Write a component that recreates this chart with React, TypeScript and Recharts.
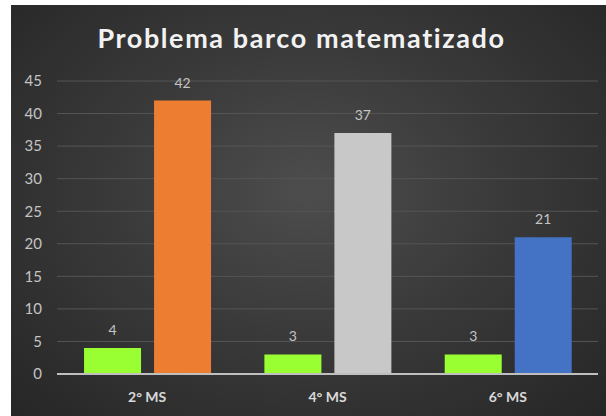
import React from "react";
import { BarChart, Bar, XAxis, YAxis, CartesianGrid, LabelList, Cell } from "recharts";

const categories = ["2° MS", "4° MS", "6° MS"];
const seriesA = [4, 3, 3];
const seriesB = [42, 37, 21];
const colorsB = ["#ED7D31", "#C8C8C8", "#4472C4"];
const yTicks = [0, 5, 10, 15, 20, 25, 30, 35, 40, 45];
const title = "Problema barco matematizado";

const data = categories.map((c, i) => ({ name: c, a: seriesA[i], b: seriesB[i] }));

const W = 595;
const H = 411;
const font = "Lato, 'Open Sans', sans-serif";

export default function App() {
  return (
    <div
      style={{
        position: "absolute",
        left: 11,
        top: 5,
        width: W,
        height: H,
        background: "radial-gradient(ellipse at 50% 45%, #4d4d4d 0%, #3a3a3a 45%, #262626 100%)",
        fontFamily: font,
      }}
    >
      <div
        style={{
          position: "absolute",
          left: -7,
          top: 16,
          width: W,
          textAlign: "center",
          color: "#f2f2f2",
          fontSize: 27,
          fontWeight: 700,
          letterSpacing: 1.6,
          lineHeight: "34px",
        }}
      >
        {title}
      </div>
      <BarChart
        width={W}
        height={H}
        data={data}
        margin={{ top: 76, right: 8, bottom: 12, left: 0 }}
        barCategoryGap="15%"
        barGap={13}
      >
        <CartesianGrid vertical={false} stroke="#555555" strokeWidth={1} />
        <XAxis
          dataKey="name"
          height={30}
          tickLine={false}
          tickSize={0}
          tickMargin={18}
          axisLine={{ stroke: "#bfbfbf", strokeWidth: 2 }}
          tick={{ fill: "#d9d9d9", fontSize: 14, fontWeight: 700, fontFamily: font }}
        />
        <YAxis
          width={46}
          domain={[0, 45]}
          ticks={yTicks}
          interval={0}
          tickLine={false}
          tickSize={0}
          tickMargin={15}
          axisLine={false}
          tick={{ fill: "#c4c4c4", fontSize: 15, fontFamily: font }}
        />
        <Bar dataKey="a" fill="#99FF33" isAnimationActive={false}>
          <LabelList dataKey="a" position="top" offset={13} fill="#c4c4c4" fontSize={14} fontFamily={font} />
        </Bar>
        <Bar dataKey="b" isAnimationActive={false}>
          {data.map((d, i) => (
            <Cell key={d.name} fill={colorsB[i]} />
          ))}
          <LabelList dataKey="b" position="top" offset={13} fill="#c4c4c4" fontSize={14} fontFamily={font} />
        </Bar>
      </BarChart>
    </div>
  );
}
